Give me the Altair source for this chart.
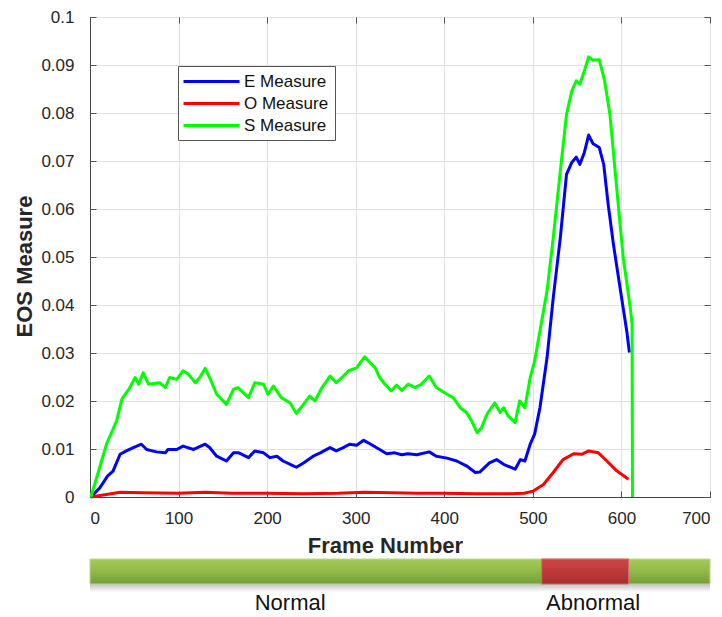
import altair as alt
import pandas as pd

# ---------------- data ----------------
series_names = ["E Measure", "O Measure", "S Measure"]
series_colors = ["#0000ff", "#ff0000", "#00ff00"]

e_frames = [1, 11, 20, 26, 34, 41, 49, 58, 64, 75,
            85, 88, 98, 105, 117, 130, 135, 143, 154, 162,
            168, 179, 186, 196, 203, 211, 218, 226, 233, 241,
            252, 260, 271, 278, 286, 293, 301, 309, 316, 327,
            335, 344, 352, 359, 369, 383, 391, 403, 414, 425,
            435, 440, 451, 459, 467, 480, 486, 491, 497, 502,
            508, 516, 523, 531, 538, 544, 549, 553, 558, 563,
            568, 575, 580, 585, 591, 599, 606, 609]
e_values = [0.0000, 0.0019, 0.0044, 0.0054, 0.0089, 0.0096, 0.0103, 0.0110, 0.0099, 0.0094,
            0.0092, 0.0099, 0.0099, 0.0106, 0.0099, 0.0110, 0.0103, 0.0085, 0.0075, 0.0092,
            0.0092, 0.0082, 0.0096, 0.0092, 0.0082, 0.0085, 0.0075, 0.0068, 0.0062, 0.0071,
            0.0085, 0.0092, 0.0103, 0.0096, 0.0103, 0.0110, 0.0108, 0.0118, 0.0111, 0.0099,
            0.0090, 0.0092, 0.0088, 0.0090, 0.0088, 0.0094, 0.0085, 0.0081, 0.0075, 0.0065,
            0.0051, 0.0052, 0.0071, 0.0078, 0.0068, 0.0058, 0.0078, 0.0075, 0.0110, 0.0131,
            0.0186, 0.0290, 0.0415, 0.0540, 0.0672, 0.0697, 0.0708, 0.0693, 0.0717, 0.0754,
            0.0736, 0.0728, 0.0693, 0.0610, 0.0526, 0.0429, 0.0346, 0.0301]

o_frames = [1, 15, 34, 60, 100, 130, 160, 200, 240, 280,
            310, 340, 370, 400, 436, 474, 490, 500, 512, 523,
            534, 546, 555, 563, 574, 583, 595, 608]
o_values = [0.0000, 0.0004, 0.0010, 0.0009, 0.0008, 0.0010, 0.0008, 0.0008, 0.0007, 0.0008,
            0.0010, 0.0009, 0.0008, 0.0008, 0.0007, 0.0007, 0.0008, 0.0012, 0.0026, 0.0051,
            0.0078, 0.0090, 0.0089, 0.0096, 0.0092, 0.0076, 0.0054, 0.0037]

s_frames = [1, 19, 30, 36, 45, 51, 55, 60, 66, 79,
            85, 90, 98, 105, 111, 119, 124, 130, 135, 143,
            154, 162, 167, 179, 186, 196, 201, 207, 216, 226,
            233, 241, 248, 254, 262, 271, 278, 286, 292, 301,
            310, 316, 322, 327, 333, 340, 346, 352, 359, 367,
            374, 383, 391, 403, 410, 418, 425, 431, 437, 442,
            448, 457, 463, 467, 472, 480, 485, 491, 497, 502,
            508, 516, 523, 531, 538, 544, 549, 553, 557, 563,
            568, 575, 581, 587, 595, 602, 610, 612, 612.5]
s_values = [0.0000, 0.0112, 0.0158, 0.0204, 0.0228, 0.0249, 0.0235, 0.0259, 0.0235, 0.0238,
            0.0228, 0.0249, 0.0245, 0.0263, 0.0256, 0.0238, 0.0249, 0.0268, 0.0249, 0.0214,
            0.0193, 0.0224, 0.0228, 0.0207, 0.0238, 0.0235, 0.0214, 0.0231, 0.0207, 0.0196,
            0.0174, 0.0193, 0.0210, 0.0200, 0.0228, 0.0252, 0.0238, 0.0252, 0.0263, 0.0269,
            0.0292, 0.0280, 0.0269, 0.0249, 0.0235, 0.0221, 0.0233, 0.0222, 0.0235, 0.0228,
            0.0235, 0.0252, 0.0228, 0.0214, 0.0207, 0.0186, 0.0176, 0.0158, 0.0134, 0.0144,
            0.0172, 0.0196, 0.0176, 0.0186, 0.0169, 0.0155, 0.0200, 0.0186, 0.0249, 0.0283,
            0.0346, 0.0429, 0.0540, 0.0679, 0.0797, 0.0846, 0.0867, 0.0860, 0.0881, 0.0917,
            0.0910, 0.0911, 0.0867, 0.0797, 0.0637, 0.0499, 0.0394, 0.0360, 0.0000]

x_ticks = [0, 100, 200, 300, 400, 500, 600, 700]
y_ticks = [0, 0.01, 0.02, 0.03, 0.04, 0.05, 0.06, 0.07, 0.08, 0.09, 0.1]

band_names = ["Normal", "Abnormal"]
band_start = [0, 510]
band_end = [700, 608]
band_label_pos = [226, 568]

# ---------------- tables ----------------
rows = []
for name, fr, vals in zip(series_names, [e_frames, o_frames, s_frames], [e_values, o_values, s_values]):
    for f, v in zip(fr, vals):
        rows.append({"frame": f, "value": v, "series": name})
lines_df = pd.DataFrame(rows)

band_df = pd.DataFrame({"name": band_names, "start": band_start, "end": band_end,
                        "pos": band_label_pos})

FONT = "Liberation Sans"
x_scale = alt.Scale(domain=[0, 700], nice=False, zero=False)
y_scale = alt.Scale(domain=[0, 0.1], nice=False)
x_axis = alt.Axis(values=x_ticks, title="Frame Number", titleX=295, titleY=55,
                  titleBaseline="alphabetic", labelPadding=13, orient="bottom")
y_axis = alt.Axis(values=y_ticks, format="~g", title="EOS Measure", titleX=-59, titleY=249,
                  titleBaseline="alphabetic", labelPadding=16, orient="left")


def tick_axis(orient, vals):
    # inward-pointing tick marks (MATLAB style), drawn as an axis shifted into the plot
    return alt.Axis(orient=orient, values=vals, offset=-6, ticks=True, tickSize=6,
                    tickColor="#555555", tickWidth=1, labels=False, domain=False,
                    grid=False, title=None)


lines = alt.Chart(lines_df).mark_line(strokeWidth=3, strokeJoin="round").encode(
    x=alt.X("frame:Q", scale=x_scale, axis=x_axis),
    y=alt.Y("value:Q", scale=y_scale, axis=y_axis),
    color=alt.Color("series:N", scale=alt.Scale(domain=series_names, range=series_colors),
                    legend=alt.Legend(title=None, orient="none", legendX=88, legendY=49,
                                      symbolType="M-3.5,0H3.5", symbolSize=256,
                                      symbolStrokeWidth=3, symbolOffset=18,
                                      labelFont=FONT, labelFontSize=17, labelColor="#111111",
                                      labelOffset=23, rowPadding=4, padding=6,
                                      strokeColor="#555555", fillColor="white")),
)

ticks_lb = alt.Chart(lines_df).mark_point(opacity=0).encode(
    x=alt.X("frame:Q", scale=x_scale, axis=tick_axis("bottom", x_ticks)),
    y=alt.Y("value:Q", scale=y_scale, axis=tick_axis("left", y_ticks)),
)
ticks_tr = alt.Chart(lines_df).mark_point(opacity=0).encode(
    x=alt.X("frame:Q", scale=x_scale, axis=tick_axis("top", x_ticks)),
    y=alt.Y("value:Q", scale=y_scale, axis=tick_axis("right", y_ticks)),
)

green_grad = alt.Gradient(gradient="linear", x1=0, x2=0, y1=0, y2=1,
                          stops=[alt.GradientStop(color="#a6cb55", offset=0),
                                 alt.GradientStop(color="#90b948", offset=0.5),
                                 alt.GradientStop(color="#739d38", offset=1)])
red_grad = alt.Gradient(gradient="linear", x1=0, x2=0, y1=0, y2=1,
                        stops=[alt.GradientStop(color="#cf4444", offset=0),
                               alt.GradientStop(color="#c03a3a", offset=0.5),
                               alt.GradientStop(color="#a32e2e", offset=1)])
shadow_grad = alt.Gradient(gradient="linear", x1=0, x2=0, y1=0, y2=1,
                           stops=[alt.GradientStop(color="rgba(0,0,0,0.28)", offset=0),
                                  alt.GradientStop(color="rgba(0,0,0,0)", offset=1)])

base_band = alt.Chart(band_df)
shadow = base_band.transform_filter(alt.datum.name == "Normal").mark_rect(fill=shadow_grad).encode(
    x=alt.X("start:Q", scale=x_scale, axis=None), x2="end:Q",
    y=alt.value(566), y2=alt.value(575))
green_bar = base_band.transform_filter(alt.datum.name == "Normal").mark_rect(
    fill=green_grad, stroke="#b9d88c", strokeWidth=1).encode(
    x=alt.X("start:Q", scale=x_scale, axis=None), x2="end:Q",
    y=alt.value(542), y2=alt.value(567))
red_bar = base_band.transform_filter(alt.datum.name == "Abnormal").mark_rect(
    fill=red_grad, stroke="#d86a6a", strokeWidth=1).encode(
    x=alt.X("start:Q", scale=x_scale, axis=None), x2="end:Q",
    y=alt.value(542), y2=alt.value(567))
band_text = base_band.mark_text(font=FONT, fontSize=22, color="#111111", align="center",
                                baseline="alphabetic").encode(
    x=alt.X("pos:Q", scale=x_scale, axis=None),
    y=alt.value(593), text="name:N")

chart = alt.layer(lines, ticks_lb, ticks_tr, shadow, green_bar, red_bar, band_text).resolve_axis(
    x="independent", y="independent"
).properties(
    width=620, height=480,
    background="white",
    padding={"left": 5, "top": 0, "right": 0, "bottom": 0},
).configure_view(stroke="#666666", strokeWidth=1).configure_axis(
    grid=True, gridColor="#e2e2e2", gridWidth=1, domainColor="#444444", domainWidth=1,
    tickSize=0, ticks=False,
    labelFont=FONT, labelFontSize=17, labelColor="#262626",
    titleFont=FONT, titleFontSize=22, titleFontWeight="bold", titleColor="#262626",
)

chart.save("out.html", embed_options={"renderer": "svg", "actions": False})
